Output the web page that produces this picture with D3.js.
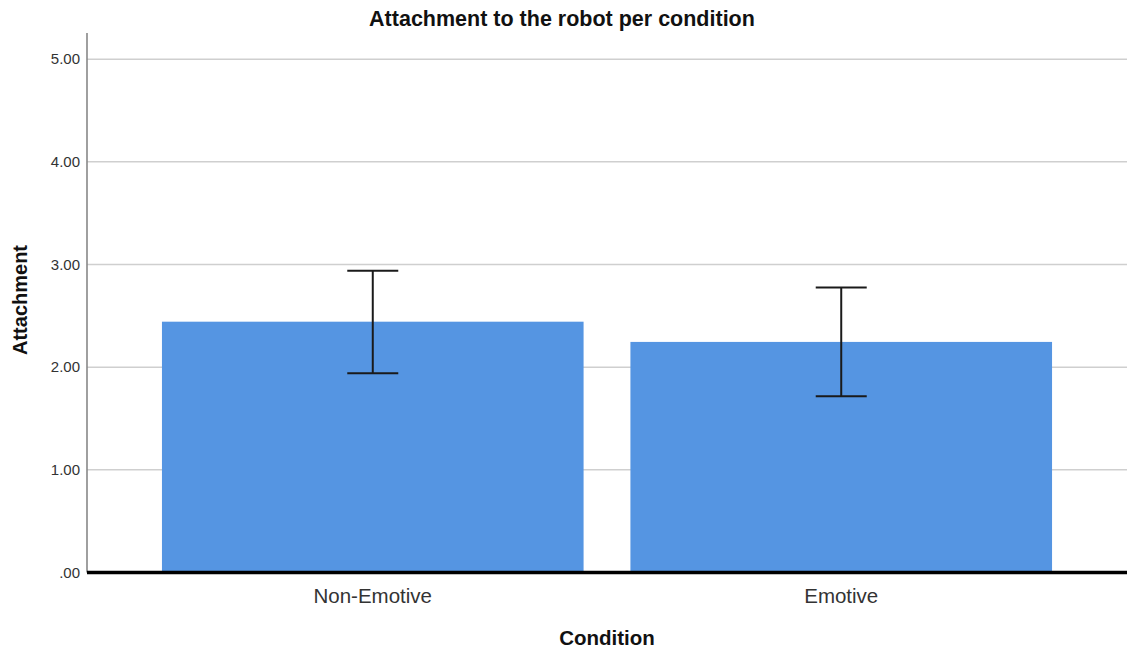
<!DOCTYPE html>
<html>
<head>
<meta charset="utf-8">
<script src="https://cdn.jsdelivr.net/npm/d3@7"></script>
<style>
  html, body { margin: 0; padding: 0; background: #fff; }
  svg { display: block; }
  text { font-family: "Liberation Sans", Arial, sans-serif; }
</style>
</head>
<body>
<svg id="chart" width="1128" height="649"></svg>
<script>
// Data
const categories = ["Non-Emotive", "Emotive"];
const means = [2.443, 2.246];
const ciLow = [1.941, 1.716];
const ciHigh = [2.940, 2.776];
const yTicks = [0, 1, 2, 3, 4, 5];
const yTickLabels = [".00", "1.00", "2.00", "3.00", "4.00", "5.00"];
const title = "Attachment to the robot per condition";
const xTitle = "Condition";
const yTitle = "Attachment";

const W = 1128, H = 649;
const m = { left: 87, right: 1127, top: 33, bottom: 572.5 };

const svg = d3.select("#chart");

const x = d3.scaleBand().domain(categories).range([m.left, m.right])
  .paddingInner(0.1).paddingOuter(0.16);
const y = d3.scaleLinear().domain([0, 5.255]).range([m.bottom, m.top]);

// gridlines
svg.append("g").selectAll("line").data(yTicks.filter(d => d > 0)).join("line")
  .attr("x1", m.left).attr("x2", m.right)
  .attr("y1", d => y(d)).attr("y2", d => y(d))
  .attr("stroke", "#cfcfcf").attr("stroke-width", 1.5);

// y axis
const yAxis = d3.axisLeft(y).tickValues(yTicks)
  .tickFormat((d, i) => yTickLabels[i]).tickSize(0).tickPadding(7);
const gy = svg.append("g").attr("transform", `translate(${m.left},0)`).call(yAxis);
gy.select(".domain").remove();
gy.selectAll("text").attr("font-size", 15).attr("fill", "#333")
  .attr("font-family", "'Liberation Sans', Arial, sans-serif");
svg.append("line").attr("x1", m.left).attr("x2", m.left)
  .attr("y1", m.top).attr("y2", m.bottom)
  .attr("stroke", "#888").attr("stroke-width", 1.6);

// bars
svg.append("g").selectAll("rect").data(categories).join("rect")
  .attr("x", d => x(d)).attr("width", x.bandwidth())
  .attr("y", (d, i) => y(means[i])).attr("height", (d, i) => y(0) - y(means[i]))
  .attr("fill", "#5595E2");

// baseline
svg.append("line").attr("x1", m.left).attr("x2", m.right)
  .attr("y1", y(0)).attr("y2", y(0))
  .attr("stroke", "#000").attr("stroke-width", 3.5);

// error bars
const eb = svg.append("g").attr("stroke", "#1a1a1a").attr("stroke-width", 2);
categories.forEach((c, i) => {
  const cx = x(c) + x.bandwidth() / 2;
  const hw = 25.5;
  eb.append("line").attr("x1", cx).attr("x2", cx).attr("y1", y(ciHigh[i])).attr("y2", y(ciLow[i]));
  eb.append("line").attr("x1", cx - hw).attr("x2", cx + hw).attr("y1", y(ciHigh[i])).attr("y2", y(ciHigh[i]));
  eb.append("line").attr("x1", cx - hw).attr("x2", cx + hw).attr("y1", y(ciLow[i])).attr("y2", y(ciLow[i]));
});

// x axis labels
const xAxis = d3.axisBottom(x).tickSize(0).tickPadding(0);
const gx = svg.append("g").attr("transform", `translate(0,${m.bottom})`).call(xAxis);
gx.select(".domain").remove();
gx.selectAll("text").attr("font-size", 20.5).attr("fill", "#333")
  .attr("font-family", "'Liberation Sans', Arial, sans-serif")
  .attr("dy", null).attr("y", 30);

// titles
svg.append("text").attr("x", 562).attr("y", 26).attr("text-anchor", "middle")
  .attr("font-size", 21.5).attr("font-weight", "bold").attr("fill", "#111").text(title);
svg.append("text").attr("x", 607).attr("y", 645).attr("text-anchor", "middle")
  .attr("font-size", 20.5).attr("font-weight", "bold").attr("fill", "#111").text(xTitle);
svg.append("text").attr("transform", "translate(27,300) rotate(-90)")
  .attr("text-anchor", "middle")
  .attr("font-size", 20).attr("font-weight", "bold").attr("fill", "#111").text(yTitle);
</script>
</body>
</html>
